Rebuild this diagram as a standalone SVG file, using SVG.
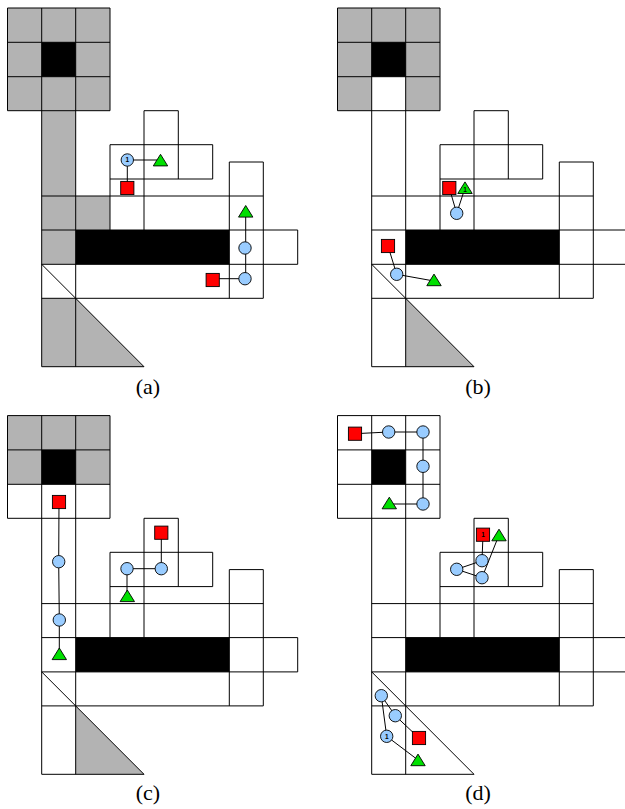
<svg xmlns="http://www.w3.org/2000/svg" width="625" height="809" viewBox="0 0 625 809">
<style>
.g{fill:#b3b3b3;stroke:none}
.k{fill:#000;stroke:none}
.l{fill:none;stroke:#000;stroke-width:1}
.c{fill:none;stroke:#000;stroke-width:1}
.n{fill:#99ccff;stroke:#000;stroke-width:.9}
.s{fill:#ff0000;stroke:#000;stroke-width:.9}
.t{fill:#00e000;stroke:#000;stroke-width:.9}
.one{font-family:"Liberation Sans",Arial,sans-serif;font-size:6.5px;font-weight:bold;text-anchor:middle;fill:#000}
.cap{font-family:"Liberation Serif","Times New Roman",serif;font-size:22px;text-anchor:middle;fill:#000}
</style>
<defs>
<polygon id="tri" points="0,-5.9 7.2,5.7 -7.2,5.7"/>
<g id="grid" class="l">
<rect class="k" x="41.7" y="42.3" width="34" height="34.4"/>
<rect class="k" x="75.7" y="230" width="153.6" height="34.3"/>
<path class="l" d="M7.5 8H110V110.7H7.5ZM7.5 42.3H110M7.5 76.7H110M41.7 8V366.7M75.7 8V366.7M41.7 196H263.3M41.7 230H297.7V264.3H41.7M41.7 298.3H263.3M41.7 366.7H144L41.7 264.3M110 144.7V230M144 110.7V230M178.3 110.7V179M144 110.7H178.3M110 144.7H212.7V179H110M229.3 162V298.3M263.3 162V298.3M229.3 162H263.3"/>
</g>
</defs>

<g id="panel-a">
<path class="g" d="M7.5 8H110V110.7H75.7V196H110V230H75.7V264.3H41.7V110.7H7.5Z"/>
<path class="g" d="M41.7 298.3H75.7L144 366.7H41.7Z"/>
<use href="#grid"/>
</g>
<g id="panel-b" transform="translate(330 0)">
<path class="g" d="M7.5 8H110V110.7H75.7V76.7H41.7V110.7H7.5Z"/>
<path class="g" d="M75.7 298.3L144 366.7H75.7Z"/>
<use href="#grid"/>
</g>
<g id="panel-c" transform="translate(0 407.6)">
<path class="g" d="M7.5 8H110V76.7H7.5Z"/>
<path class="g" d="M75.7 298.3L144 366.7H75.7Z"/>
<use href="#grid"/>
</g>
<g id="panel-d" transform="translate(330 407.6)">
<use href="#grid"/>
</g>

<g id="connectors" class="c">
<path d="M127.3 188V160H160.5"/>
<path d="M245.7 212V278.7H212.7"/>
<path d="M449.3 188L456.7 213.3L465 188"/>
<path d="M388 246L396.7 274.3L434 281"/>
<path d="M59 502L58.7 561.7L59.3 620L59.3 654"/>
<path d="M161.3 532.7V568.7H127V596"/>
<path d="M355 433.7L388.7 432H423V504H389.3"/>
<path d="M483 534.7L482 560.7L456.7 569.3L482 577.7L499 535"/>
<path d="M419 738L395.3 715.7L381.3 695.7L386.7 736.3L418 760"/>
</g>

<g id="a-c1"><circle class="n" cx="127.3" cy="160" r="6.2"/><text class="one" x="127.3" y="162.4">1</text></g>
<g id="a-t1"><use class="t" href="#tri" x="160.5" y="160.2"/></g>
<g id="a-s1"><rect class="s" x="120.7" y="181.4" width="13.2" height="13.2"/></g>
<g id="a-t2"><use class="t" href="#tri" x="245.7" y="211.4"/></g>
<g id="a-c2"><circle class="n" cx="245" cy="248" r="6.2"/></g>
<g id="a-c3"><circle class="n" cx="245" cy="278.7" r="6.2"/></g>
<g id="a-s2"><rect class="s" x="206.1" y="273.4" width="13.2" height="13.2"/></g>

<g id="b-s1"><rect class="s" x="442.7" y="181.4" width="13.2" height="13.2"/></g>
<g id="b-t1"><use class="t" href="#tri" x="465" y="187.8"/><text class="one" x="465" y="191.5">1</text></g>
<g id="b-c1"><circle class="n" cx="456.7" cy="213.3" r="6.2"/></g>
<g id="b-s2"><rect class="s" x="381.4" y="239.4" width="13.2" height="13.2"/></g>
<g id="b-c2"><circle class="n" cx="396.7" cy="274.3" r="6.2"/></g>
<g id="b-t2"><use class="t" href="#tri" x="434" y="280"/></g>

<g id="c-s1"><rect class="s" x="52.4" y="495.4" width="13.2" height="13.2"/></g>
<g id="c-c1"><circle class="n" cx="58.7" cy="561.7" r="6.2"/></g>
<g id="c-c2"><circle class="n" cx="59.3" cy="620" r="6.2"/></g>
<g id="c-t1"><use class="t" href="#tri" x="59.3" y="653.9"/></g>
<g id="c-s2"><rect class="s" x="154.7" y="526.1" width="13.2" height="13.2"/></g>
<g id="c-c3"><circle class="n" cx="161.3" cy="568.7" r="6.2"/></g>
<g id="c-c4"><circle class="n" cx="127" cy="568.7" r="6.2"/></g>
<g id="c-t2"><use class="t" href="#tri" x="127.3" y="595.9"/></g>

<g id="d-s1"><rect class="s" x="348.4" y="427.1" width="13.2" height="13.2"/></g>
<g id="d-c1"><circle class="n" cx="388.7" cy="432" r="6.2"/></g>
<g id="d-c2"><circle class="n" cx="423" cy="432" r="6.2"/></g>
<g id="d-c3"><circle class="n" cx="423" cy="466.3" r="6.2"/></g>
<g id="d-c4"><circle class="n" cx="423" cy="504" r="6.2"/></g>
<g id="d-t1"><use class="t" href="#tri" x="389.3" y="503.1"/></g>
<g id="d-s2"><rect class="s" x="476.4" y="528.1" width="13.2" height="13.2"/><text class="one" x="483" y="537">1</text></g>
<g id="d-t2"><use class="t" href="#tri" x="499" y="535.1"/></g>
<g id="d-c5"><circle class="n" cx="482" cy="560.7" r="6.2"/></g>
<g id="d-c6"><circle class="n" cx="482" cy="577.7" r="6.2"/></g>
<g id="d-c7"><circle class="n" cx="456.7" cy="569.3" r="6.2"/></g>
<g id="d-c8"><circle class="n" cx="381.3" cy="695.7" r="6.2"/></g>
<g id="d-c9"><circle class="n" cx="395.3" cy="715.7" r="6.2"/></g>
<g id="d-c10"><circle class="n" cx="386.7" cy="736.3" r="6.2"/><text class="one" x="386.7" y="738.7">1</text></g>
<g id="d-s3"><rect class="s" x="412.4" y="731.4" width="13.2" height="13.2"/></g>
<g id="d-t3"><use class="t" href="#tri" x="418" y="760"/></g>

<text class="cap" x="148" y="394">(a)</text>
<text class="cap" x="478" y="394">(b)</text>
<text class="cap" x="148" y="800">(c)</text>
<text class="cap" x="478" y="800">(d)</text>
</svg>
